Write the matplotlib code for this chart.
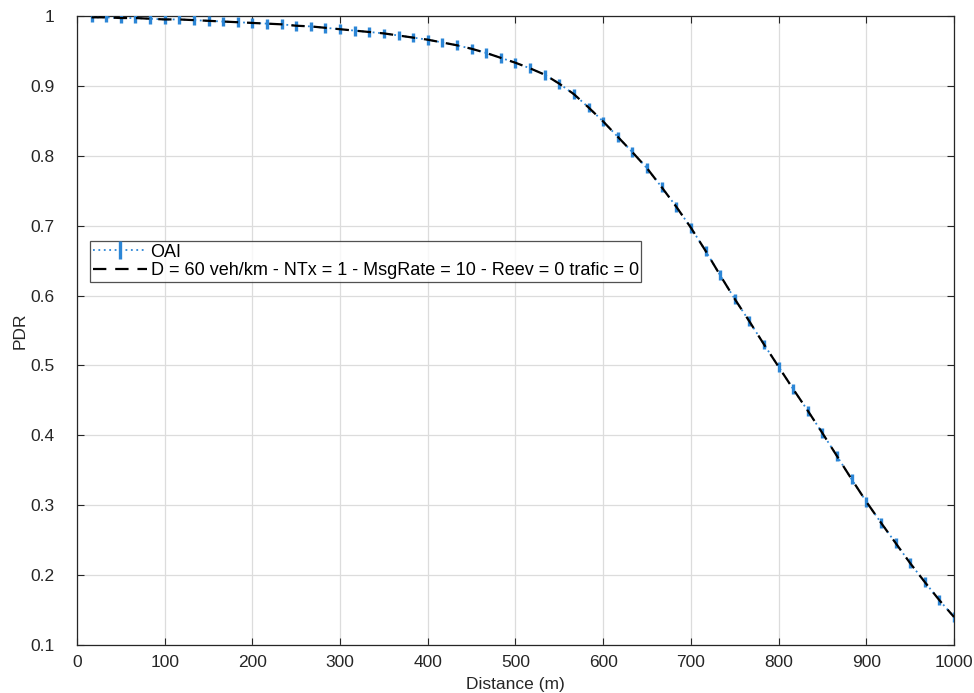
import numpy as np
import matplotlib.pyplot as plt

plt.rcParams['font.family'] = ['Liberation Sans', 'DejaVu Sans']

# distance (m), one sample every 1000/60 m
distance = np.arange(1, 61) * 1000 / 60

# PDR
pdr_oai = [0.998, 0.998, 0.997, 0.997, 0.996, 0.995, 0.995, 0.994, 0.993, 0.992,
           0.991, 0.990, 0.989, 0.988, 0.986, 0.985, 0.983, 0.981, 0.979, 0.977,
           0.975, 0.972, 0.969, 0.966, 0.962, 0.958, 0.953, 0.947, 0.940, 0.933,
           0.925, 0.916, 0.903, 0.888, 0.869, 0.849, 0.827, 0.805, 0.782, 0.755,
           0.727, 0.697, 0.664, 0.629, 0.595, 0.563, 0.530, 0.498, 0.466, 0.435,
           0.403, 0.370, 0.337, 0.305, 0.275, 0.246, 0.217, 0.190, 0.164, 0.140]
pdr_err = [0.007] * 60
pdr_sim = pdr_oai

label_oai = 'OAI'
label_sim = 'D = 60 veh/km - NTx = 1 - MsgRate = 10 - Reev = 0 trafic = 0'

fig = plt.figure(figsize=(9.74, 6.93), dpi=100)
ax = fig.add_axes([0.079, 0.0693, 0.9005, 0.9077])

blue = '#2c86d6'
h_oai = ax.errorbar(distance, pdr_oai, yerr=pdr_err, color=blue, linestyle=(0, (1, 2)),
                    linewidth=1.3, elinewidth=2.4, capsize=0, zorder=3)
h_sim, = ax.plot(distance, pdr_sim, color='black', linestyle=(0, (6, 4)),
                 linewidth=1.6, zorder=4)

ax.set_xlim(0, 1000)
ax.set_ylim(0.1, 1)
ax.set_xticks(np.arange(0, 1001, 100))
ax.set_yticks(np.arange(0.1, 1.01, 0.1))
ax.set_yticklabels(['0.1', '0.2', '0.3', '0.4', '0.5', '0.6', '0.7', '0.8', '0.9', '1'])
ax.grid(True, color='#dcdcdc', linewidth=0.9)
ax.set_axisbelow(True)
ax.tick_params(direction='in', top=True, right=True, labelsize=12.5,
               colors='#262626', length=5)
ax.tick_params(axis='y', pad=16)
ax.tick_params(axis='x', pad=7)
for s in ax.spines.values():
    s.set_color('#262626')
    s.set_linewidth(0.9)

ax.set_xlabel('Distance (m)', fontsize=12.5, color='#262626', labelpad=5)
ax.set_ylabel('PDR', fontsize=12.5, color='#262626', labelpad=2)

leg = ax.legend([h_oai, h_sim], [label_oai, label_sim],
                loc='lower left', bbox_to_anchor=(0.015, 0.577), fontsize=13,
                frameon=True, fancybox=False, edgecolor='#262626',
                handlelength=3.0, borderpad=0.15, labelspacing=0.1,
                handletextpad=0.2, borderaxespad=0)
leg.get_frame().set_linewidth(0.9)

fig.savefig('out.png', dpi=100)
